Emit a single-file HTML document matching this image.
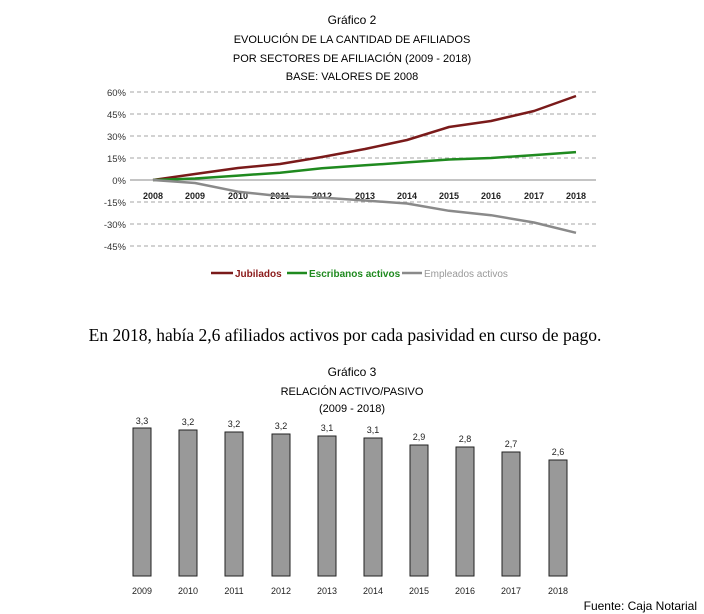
<!DOCTYPE html><html><head><style>body{margin:0;background:#fff}svg{display:block}</style></head><body>
<svg width="704" height="614" xmlns="http://www.w3.org/2000/svg" font-family="Liberation Sans, sans-serif">
<g text-anchor="middle" fill="#000" font-size="11">
<text x="352" y="24" font-size="12">Gráfico 2</text>
<text x="352" y="43">EVOLUCIÓN DE LA CANTIDAD DE AFILIADOS</text>
<text x="352" y="62">POR SECTORES DE AFILIACIÓN (2009 - 2018)</text>
<text x="352" y="80">BASE: VALORES DE 2008</text>
</g>
<g stroke="#888" stroke-dasharray="4,3" stroke-width="0.8">
<line x1="130" x2="596" y1="92" y2="92"/><line x1="130" x2="596" y1="114" y2="114"/><line x1="130" x2="596" y1="136" y2="136"/><line x1="130" x2="596" y1="158" y2="158"/><line x1="130" x2="596" y1="202" y2="202"/><line x1="130" x2="596" y1="224" y2="224"/><line x1="130" x2="596" y1="246" y2="246"/>
</g>
<line x1="130" x2="596" y1="180" y2="180" stroke="#888"/>
<g font-size="9.5" text-anchor="end" fill="#333">
<text x="126" y="96">60%</text><text x="126" y="118">45%</text><text x="126" y="140">30%</text><text x="126" y="162">15%</text><text x="126" y="184">0%</text><text x="126" y="206">-15%</text><text x="126" y="228">-30%</text><text x="126" y="250">-45%</text>
</g>
<g font-size="9" font-weight="bold" text-anchor="middle" fill="#222">
<text x="153" y="199">2008</text><text x="195" y="199">2009</text><text x="238" y="199">2010</text><text x="280" y="199">2011</text><text x="322" y="199">2012</text><text x="365" y="199">2013</text><text x="407" y="199">2014</text><text x="449" y="199">2015</text><text x="491" y="199">2016</text><text x="534" y="199">2017</text><text x="576" y="199">2018</text>
</g>
<g fill="none" stroke-width="2.5" stroke-linejoin="round">
<polyline stroke="#7a1a1a" points="153,180 195,174 238,168 280,164 322,157 365,149 407,140 449,127 491,121 534,111 576,96"/>
<polyline stroke="#1f8a1f" points="153,180 195,178.5 238,175.6 280,172.7 322,168.3 365,165.3 407,162.4 449,159.5 491,158 534,155.1 576,152.1"/>
<polyline stroke="#8a8a8a" points="153,180 195,183 238,191.7 280,196.1 322,197.6 365,200.5 407,203.5 449,210.8 491,215.2 534,222.5 576,232.8"/>
</g>
<g font-size="10" font-weight="bold">
<line x1="211" x2="233" y1="273" y2="273" stroke="#7a1a1a" stroke-width="2.5"/><text x="235" y="277" fill="#8b1a1a">Jubilados</text>
<line x1="287" x2="307" y1="273" y2="273" stroke="#1f8a1f" stroke-width="2.5"/><text x="309" y="277" fill="#1f8a1f">Escribanos activos</text>
<line x1="402" x2="422" y1="273" y2="273" stroke="#8a8a8a" stroke-width="2.5"/><text x="424" y="277" fill="#999" font-weight="normal">Empleados activos</text>
</g>
<text x="345" y="341" font-family="Liberation Serif, serif" font-size="17.5" text-anchor="middle">En 2018, había 2,6 afiliados activos por cada pasividad en curso de pago.</text>
<g text-anchor="middle" font-size="11">
<text x="352" y="376" font-size="12">Gráfico 3</text>
<text x="352" y="395">RELACIÓN ACTIVO/PASIVO</text>
<text x="352" y="412">(2009 - 2018)</text>
</g>
<g fill="#999" stroke="#222" stroke-width="1">
<rect x="133" y="428" width="18" height="148"/><rect x="179" y="430" width="18" height="146"/><rect x="225" y="432" width="18" height="144"/><rect x="272" y="434" width="18" height="142"/><rect x="318" y="436" width="18" height="140"/><rect x="364" y="438" width="18" height="138"/><rect x="410" y="445" width="18" height="131"/><rect x="456" y="447" width="18" height="129"/><rect x="502" y="452" width="18" height="124"/><rect x="549" y="460" width="18" height="116"/>
</g>
<g font-size="9" text-anchor="middle" fill="#222">
<text x="142" y="424">3,3</text><text x="188" y="425">3,2</text><text x="234" y="427">3,2</text><text x="281" y="429">3,2</text><text x="327" y="431">3,1</text><text x="373" y="433">3,1</text><text x="419" y="440">2,9</text><text x="465" y="442">2,8</text><text x="511" y="447">2,7</text><text x="558" y="455">2,6</text>
<text x="142" y="594">2009</text><text x="188" y="594">2010</text><text x="234" y="594">2011</text><text x="281" y="594">2012</text><text x="327" y="594">2013</text><text x="373" y="594">2014</text><text x="419" y="594">2015</text><text x="465" y="594">2016</text><text x="511" y="594">2017</text><text x="558" y="594">2018</text>
</g>
<text x="697" y="610" font-size="12" text-anchor="end">Fuente: Caja Notarial</text>
</svg></body></html>
